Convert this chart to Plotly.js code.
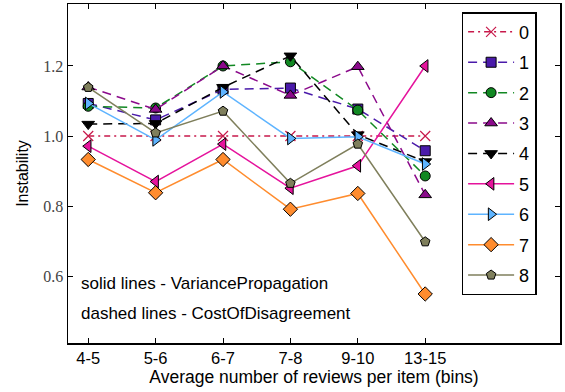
<!DOCTYPE html>
<html>
<head>
<meta charset="utf-8">
<script src="https://cdn.plot.ly/plotly-3.0.1.min.js"></script>
<style>html,body{margin:0;padding:0;background:#fff;}#chart{width:565px;height:392px;}</style>
</head>
<body>
<div id="chart"></div>
<script>
const bins = ["4-5", "5-6", "6-7", "7-8", "9-10", "13-15"];
const seriesNames = ["0", "1", "2", "3", "4", "5", "6", "7", "8"];
const s0 = [1.0, 1.0, 1.0, 1.0, 1.0, 1.0];
const s1 = [1.093, 1.046, 1.133, 1.137, 1.077, 0.958];
const s2 = [1.085, 1.080, 1.200, 1.212, 1.074, 0.886];
const s3 = [1.140, 1.076, 1.200, 1.116, 1.198, 0.832];
const s4 = [1.034, 1.036, 1.139, 1.229, 1.004, 0.927];
const s5 = [0.971, 0.870, 0.977, 0.851, 0.915, 1.200];
const s6 = [1.093, 0.989, 1.126, 0.993, 0.998, 0.920];
const s7 = [0.933, 0.838, 0.933, 0.791, 0.836, 0.549];
const s8 = [1.139, 1.009, 1.071, 0.865, 0.977, 0.698];
const annotationTexts = ["solid lines - VariancePropagation", "dashed lines - CostOfDisagreement"];

const allSeries = [s0, s1, s2, s3, s4, s5, s6, s7, s8];
const colors = ["#c8194b", "#4a1aaa", "#118822", "#8b0a8b", "#000000", "#e5139c", "#5eb4ff", "#ff8c2e", "#7f7f5c"];
const symbols = ["x-thin-open", "square", "circle", "triangle-up", "triangle-down", "triangle-left", "triangle-right", "diamond", "pentagon"];
const dashes = ["6px,4px,2px,4px", "9px,6px", "9px,6px", "9px,6px", "9px,6px", "solid", "solid", "solid", "solid"];
const sizes = [10, 10, 10, 11, 11, 11, 11, 11, 10];

const xIdx = bins.map((b, i) => i);

const traces = allSeries.map((ys, k) => ({
  type: "scatter",
  mode: "lines+markers",
  x: xIdx,
  y: ys,
  name: seriesNames[k],
  legendgroup: "g" + k,
  line: {color: colors[k], width: 1.5, dash: dashes[k]},
  marker: k === 0
    ? {symbol: symbols[k], size: sizes[k], color: colors[k], line: {color: colors[k], width: 1.2}}
    : {symbol: symbols[k], size: sizes[k], color: colors[k], line: {color: "#000", width: 1}},
  cliponaxis: false
}));

const layout = {
  width: 565,
  height: 392,
  margin: {l: 68, r: 5, t: 4, b: 49},
  paper_bgcolor: "#fff",
  plot_bgcolor: "#fff",
  showlegend: true,
  legend: {
    x: 0.800, y: 0.976, xanchor: "left", yanchor: "top",
    bgcolor: "#fff", bordercolor: "#000", borderwidth: 1.5,
    font: {family: "Liberation Sans, Arial, sans-serif", size: 18, color: "#000"},
    tracegroupgap: 4,
    itemwidth: 46
  },
  xaxis: {
    range: [-0.3, 7.0],
    tickmode: "array",
    tickvals: xIdx,
    ticktext: bins,
    ticks: "inside",
    ticklen: 5,
    tickwidth: 1,
    tickcolor: "#000",
    showline: true,
    linecolor: "#000",
    linewidth: 1.5,
    mirror: "ticks",
    showgrid: false,
    zeroline: false,
    tickfont: {family: "Liberation Sans, Arial, sans-serif", size: 16.5, color: "#000"},
    title: {text: "Average number of reviews per item (bins)", font: {family: "Liberation Sans, Arial, sans-serif", size: 17.5, color: "#000"}, standoff: 3}
  },
  yaxis: {
    range: [0.409, 1.377],
    tickmode: "array",
    tickvals: [0.6, 0.8, 1.0, 1.2],
    ticktext: ["0.6", "0.8", "1.0", "1.2"],
    ticks: "inside",
    ticklen: 5,
    tickwidth: 1,
    tickcolor: "#000",
    showline: true,
    linecolor: "#000",
    linewidth: 1.5,
    mirror: "ticks",
    showgrid: false,
    zeroline: false,
    tickfont: {family: "Liberation Serif, Times New Roman, serif", size: 16, color: "#444"},
    title: {text: "Instability", font: {family: "Liberation Sans, Arial, sans-serif", size: 16, color: "#000"}, standoff: 10}
  },
  annotations: [
    {text: annotationTexts[0], xref: "paper", yref: "paper", x: 0.023, y: 0.176, xanchor: "left", yanchor: "middle", showarrow: false,
     font: {family: "Liberation Sans, Arial, sans-serif", size: 17, color: "#000"}},
    {text: annotationTexts[1], xref: "paper", yref: "paper", x: 0.023, y: 0.088, xanchor: "left", yanchor: "middle", showarrow: false,
     font: {family: "Liberation Sans, Arial, sans-serif", size: 17, color: "#000"}}
  ]
};

Plotly.newPlot("chart", traces, layout, {displayModeBar: false, staticPlot: true});
</script>
</body>
</html>
